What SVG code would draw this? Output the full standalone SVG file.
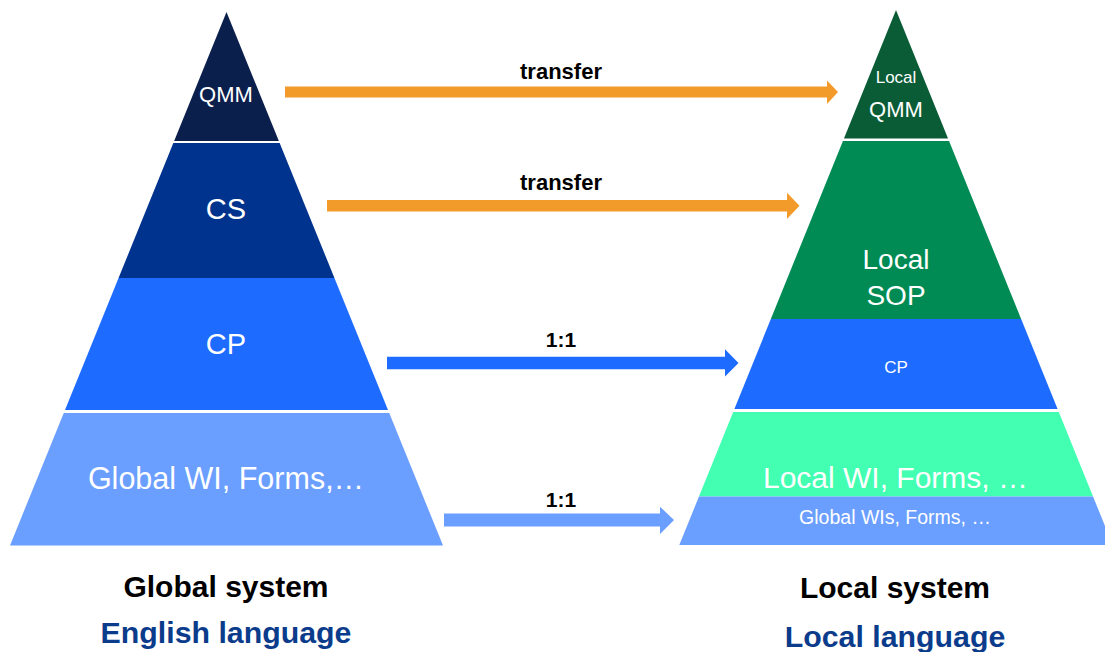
<svg xmlns="http://www.w3.org/2000/svg" width="1105" height="652" viewBox="0 0 1105 652">
<style>
text{font-family:"Liberation Sans",Arial,sans-serif;text-anchor:middle}
.w{fill:#ffffff}
.lbl{font-weight:bold;font-size:21px;fill:#000000}
.tr{font-size:22px}
.sys{font-weight:bold;font-size:30px;fill:#000000}
.lang{font-weight:bold;font-size:30.3px;fill:#0b3c8c}
</style>
<rect width="1105" height="652" fill="#ffffff"/>
<g id="global-pyramid">
<g id="g-qmm"><polygon points="226.5,12 278.85,141 174.15,141" fill="#0b1f4d"/><text class="w" x="226" y="102" font-size="22">QMM</text></g>
<g id="g-cs"><polygon points="173.34,143 279.66,143 334.44,278 118.56,278" fill="#00338d"/><text class="w" x="226" y="219" font-size="29">CS</text></g>
<g id="g-cp"><polygon points="118.56,278 334.44,278 388,410 65,410" fill="#1e6bff"/><text class="w" x="226" y="354" font-size="29">CP</text></g>
<g id="g-wi"><polygon points="63.77,413 389.23,413 443,545.5 10,545.5" fill="#6a9eff"/><text class="w" x="226" y="489" font-size="30.5">Global WI, Forms,…</text></g>
</g>
<g id="local-pyramid">
<g id="l-qmm"><polygon points="896,10 948.04,138.5 843.96,138.5" fill="#0a5c37"/><text class="w" x="896" y="83" font-size="17">Local</text><text class="w" x="896" y="117" font-size="22">QMM</text></g>
<g id="l-sop"><polygon points="842.94,141 949.06,141 1021.15,319 770.85,319" fill="#008b55"/><text class="w" x="896" y="269" font-size="28">Local</text><text class="w" x="896" y="305" font-size="28">SOP</text></g>
<g id="l-cp"><polygon points="770.85,319 1021.15,319 1057.6,409 734.4,409" fill="#1e6bff"/><text class="w" x="896" y="373" font-size="17">CP</text></g>
<g id="l-wi"><polygon points="733.19,412 1058.81,412 1093.03,496.5 698.97,496.5" fill="#42ffb2"/><text class="w" x="895.5" y="488" font-size="30">Local WI, Forms, …</text></g>
<g id="l-gwi"><polygon points="698.97,496.5 1093.03,496.5 1112.68,545 679.32,545" fill="#6a9eff"/><text class="w" x="895" y="524" font-size="19.5">Global WIs, Forms, …</text></g>
</g>
<g id="connectors">
<polygon points="285,86.5 827,86.5 827,80.5 838,92 827,104 827,97.5 285,97.5" fill="#f39b2a"/>
<polygon points="327,200 787,200 787,192.7 799.5,205.8 787,219 787,211.5 327,211.5" fill="#f39b2a"/>
<polygon points="387,356.7 725,356.7 725,349.3 738.5,363 725,376.5 725,369.3 387,369.3" fill="#1e6bff"/>
<polygon points="444,513.5 660,513.5 660,506.7 674,520 660,534 660,526.5 444,526.5" fill="#6a9eff"/>
<text class="lbl tr" x="561" y="79">transfer</text>
<text class="lbl tr" x="561" y="190">transfer</text>
<text class="lbl" x="561" y="347">1:1</text>
<text class="lbl" x="561" y="507">1:1</text>
</g>
<g id="captions">
<text class="sys" x="226" y="597">Global system</text>
<text class="lang" x="226" y="643">English language</text>
<text class="sys" x="895" y="598">Local system</text>
<text class="lang" x="895" y="647">Local language</text>
</g>
</svg>
